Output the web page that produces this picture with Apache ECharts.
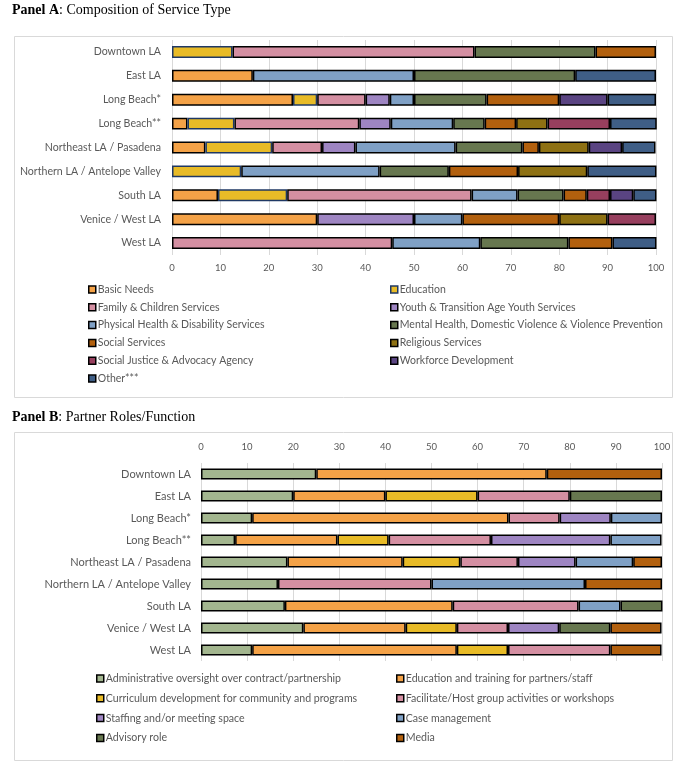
<!DOCTYPE html>
<html><head><meta charset="utf-8">
<script src="https://cdn.jsdelivr.net/npm/echarts@6/dist/echarts.min.js"></script>
<style>html,body{margin:0;padding:0;background:#fff}#c{width:685px;height:764px}</style>
</head><body><div id="c"></div>
<script>
// ---------- Data ----------
const regions = ['Downtown LA','East LA','Long Beach*','Long Beach**','Northeast LA / Pasadena','Northern LA / Antelope Valley','South LA','Venice / West LA','West LA'];
const xTicks = [0,10,20,30,40,50,60,70,80,90,100];

// Panel A: Composition of Service Type (% of partners)
const basicNeeds     = [null,16.7,25,3.2,6.9,null,9.5,30,null];
const education      = [12.5,null,5,9.7,13.8,14.3,14.3,null,null];
const familyChildren = [50,null,10,25.8,10.3,null,38.1,null,45.5];
const youthTAY       = [null,null,5,6.5,6.9,null,null,20,null];
const physicalHealth = [null,33.3,5,12.9,20.7,28.6,9.5,10,18.2];
const mentalHealth   = [25,33.3,15,6.5,13.8,14.3,9.5,null,18.2];
const socialServices = [12.5,null,15,6.5,3.4,14.3,4.8,20,9.1];
const religious      = [null,null,null,6.5,10.3,14.3,null,10,null];
const socialJustice  = [null,null,null,12.9,null,null,4.8,10,null];
const workforce      = [null,null,10,null,6.9,null,4.8,null,null];
const otherA         = [null,16.7,10,9.7,6.9,14.3,4.8,null,9.1];

// Panel B: Partner Roles/Function (% of partners)
const adminOversight = [25,20,11.1,7.4,18.75,16.7,18.2,22.2,11.1];
const eduTraining    = [50,20,55.6,22.2,25,null,36.4,22.2,44.4];
const curriculum     = [null,20,null,11.1,12.5,null,null,11.1,11.1];
const facilitate     = [null,20,11.1,22.2,12.5,33.3,27.3,11.1,22.2];
const staffing       = [null,null,11.1,25.9,12.5,null,null,11.1,null];
const caseMgmt       = [null,null,11.1,11.1,12.5,33.3,9.1,null,null];
const advisory       = [null,20,null,null,null,null,9.1,11.1,null];
const media          = [25,null,null,null,6.25,16.7,null,11.1,11.1];

const seriesA = [
  ['Basic Needs', basicNeeds, '#F4A247'],
  ['Education', education, '#E8BB27'],
  ['Family & Children Services', familyChildren, '#D48FA2'],
  ['Youth & Transition Age Youth Services', youthTAY, '#9E85C2'],
  ['Physical Health & Disability Services', physicalHealth, '#7FA0C5'],
  ['Mental Health, Domestic Violence & Violence Prevention', mentalHealth, '#67774F'],
  ['Social Services', socialServices, '#B2600E'],
  ['Religious Services', religious, '#8E7113'],
  ['Social Justice & Advocacy Agency', socialJustice, '#973F5E'],
  ['Workforce Development', workforce, '#5A4482'],
  ['Other***', otherA, '#3F5E86']
];
const seriesB = [
  ['Administrative oversight over contract/partnership', adminOversight, '#A3B68F'],
  ['Education and training for partners/staff', eduTraining, '#F4A247'],
  ['Curriculum development for community and programs', curriculum, '#E8BB27'],
  ['Facilitate/Host group activities or workshops', facilitate, '#D48FA2'],
  ['Staffing and/or meeting space', staffing, '#9E85C2'],
  ['Case management', caseMgmt, '#7FA0C5'],
  ['Advisory role', advisory, '#67774F'],
  ['Media', media, '#B2600E']
];

const FONT = 'Lato';
const gray = '#595959';
const series = [];
seriesA.forEach(([n,d,c]) => series.push({
  name:n, type:'bar', stack:'A', xAxisIndex:0, yAxisIndex:0, data:d, barWidth:'50%',
  itemStyle:{color:c, borderColor: n==='Education' ? '#1F3864' : '#000', borderWidth:1.5},
  emphasis:{disabled:true}
}));
seriesB.forEach(([n,d,c]) => series.push({
  name:n, type:'bar', stack:'B', xAxisIndex:1, yAxisIndex:1, data:d, barWidth:'50%',
  itemStyle:{color:c, borderColor:'#000', borderWidth:1.5},
  emphasis:{disabled:true}
}));

function legendData(list){
  return list.map(([n,d,c]) => ({name:n, itemStyle:{color:c, borderColor: n==='Education' ? '#1F3864' : '#000', borderWidth:1.5}}));
}
const colA1 = seriesA.filter((s,i)=>i%2===0), colA2 = seriesA.filter((s,i)=>i%2===1);
const colB1 = seriesB.filter((s,i)=>i%2===0), colB2 = seriesB.filter((s,i)=>i%2===1);

function legend(list, left, top, fs, gap){
  return {orient:'vertical', left, top, data:legendData(list), icon:'rect', itemWidth:7, itemHeight:7,
    itemGap:gap, selectedMode:false, textStyle:{fontFamily:FONT, fontSize:fs, color:gray, padding:[0,0,0,-3]}};
}

const axisLab = {fontFamily:FONT, fontSize:9.5, color:gray};
const option = {
  animation:false,
  textStyle:{fontFamily:FONT},
  graphic:[
    {type:'rect', shape:{x:14.5, y:36.5, width:658, height:361}, style:{fill:'none', stroke:'#d9d9d9', lineWidth:1}},
    {type:'rect', shape:{x:14.5, y:432.5, width:658, height:328}, style:{fill:'none', stroke:'#d9d9d9', lineWidth:1}},
    {type:'text', left:12, top:3, style:{text:'{b|Panel A}: Composition of Service Type', fontFamily:'Liberation Serif', fontSize:14, fill:'#000',
      rich:{b:{fontWeight:'bold', fontFamily:'Liberation Serif', fontSize:14}}}},
    {type:'text', left:12, top:410, style:{text:'{b|Panel B}: Partner Roles/Function', fontFamily:'Liberation Serif', fontSize:14, fill:'#000',
      rich:{b:{fontWeight:'bold', fontFamily:'Liberation Serif', fontSize:14}}}}
  ],
  grid:[
    {left:172, width:484, top:40, height:215},
    {left:201, width:461, top:463, height:198}
  ],
  xAxis:[
    {gridIndex:0, type:'value', min:0, max:100, interval:10, position:'bottom',
      axisLabel:Object.assign({margin:8}, axisLab), axisLine:{show:false}, axisTick:{show:false},
      splitLine:{lineStyle:{color:'#d9d9d9'}}},
    {gridIndex:1, type:'value', min:0, max:100, interval:10, position:'top',
      axisLabel:Object.assign({margin:11}, axisLab), axisLine:{show:false}, axisTick:{show:false},
      splitLine:{lineStyle:{color:'#d9d9d9'}}}
  ],
  yAxis:[
    {gridIndex:0, type:'category', data:regions, inverse:true, axisLine:{show:false}, axisTick:{show:false},
      axisLabel:{fontFamily:FONT, fontSize:10.6, color:gray, margin:11}},
    {gridIndex:1, type:'category', data:regions, inverse:true, axisLine:{show:false}, axisTick:{show:false},
      axisLabel:{fontFamily:FONT, fontSize:11, color:gray, margin:10}}
  ],
  legend:[
    legend(colA1, 83, 279, 10.5, 6.8),
    legend(colA2, 385, 279, 10.5, 6.8),
    legend(colB1, 91, 668, 10.6, 8.8),
    legend(colB2, 391, 668, 10.6, 8.8)
  ],
  series
};
const chart = echarts.init(document.getElementById('c'), null, {renderer:'canvas'});
chart.setOption(option);
</script>
</body></html>
